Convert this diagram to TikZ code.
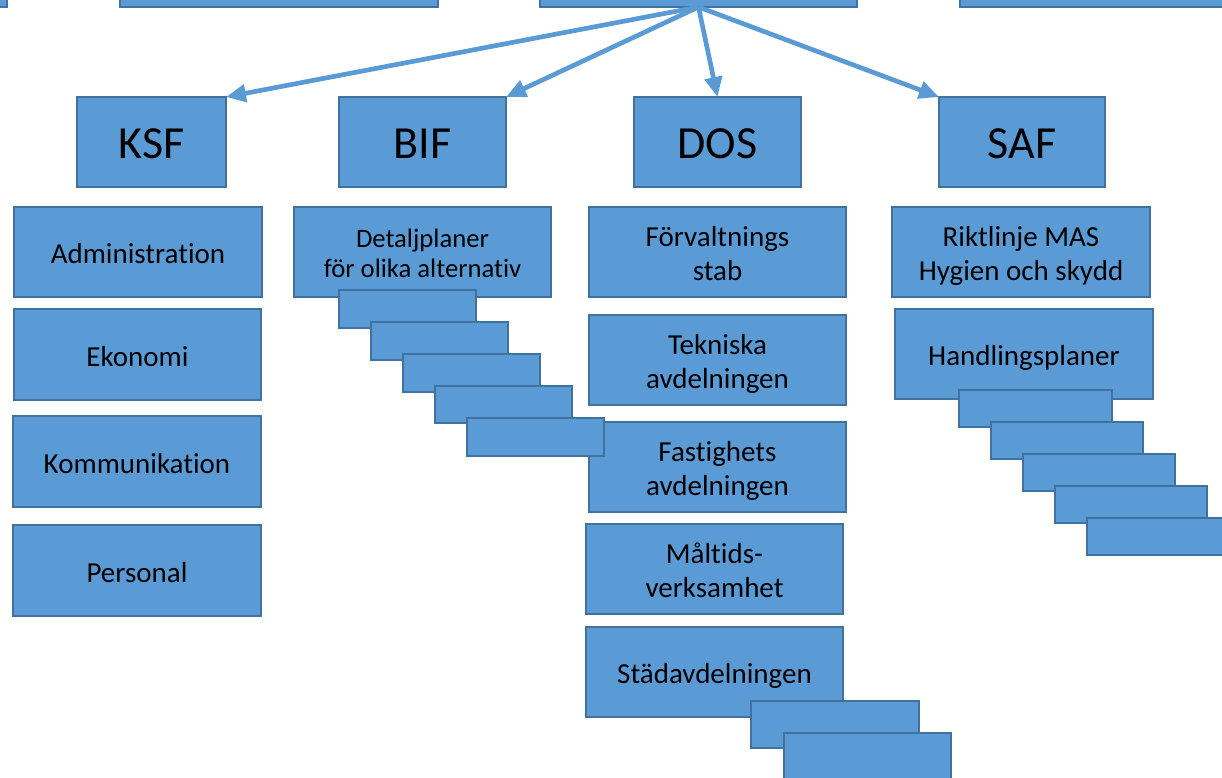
\documentclass[tikz,border=0pt]{standalone}
\usepackage{fontspec}
\setmainfont{Carlito}[Ligatures=NoCommon]
\usetikzlibrary{arrows.meta}
\definecolor{boxfill}{HTML}{5B9BD5}
\definecolor{boxline}{HTML}{41719C}
\newcommand{\mybx}[7][]{\node[box,#1, minimum width={(#4-#2)*0.75pt}, minimum height={(#5-#3)*0.75pt}] (#6) at ({(#2+#4)/2},{(#3+#5)/2}) {\raisebox{-3.6pt}[\height][\depth]{\begin{tabular}{@{}c@{}}#7\end{tabular}}};}
\begin{document}
\begin{tikzpicture}[x=0.75pt,y=-0.75pt,
  box/.style={draw=boxline, fill=boxfill, line width=1.2pt, inner sep=0pt, outer sep=0pt,
    align=center, text=black, font=\fontsize{21.75}{25.5}\selectfont},
  big/.style={font=\fontsize{34.5}{40}\selectfont},
  small/.style={font=\fontsize{20}{22.5}\selectfont},
  arr/.style={draw=boxfill, line width=3.5pt, -{Triangle[length=15pt,width=13pt]}}]
\clip (0,0) rectangle (1222,778);
% top row (cut off)
\mybx{-100}{-83}{7}{7}{t1}{}
\mybx{120}{-83}{438}{7}{t2}{}
\mybx{540}{-83}{857}{7}{t3}{}
\mybx{960}{-83}{1300}{7}{t4}{}
% second row
\mybx[big]{77}{97}{226}{187}{ksf}{\raisebox{-1pt}[\height][\depth]{KSF}}
\mybx[big]{339}{97}{506}{187}{bif}{\raisebox{-1pt}[\height][\depth]{BIF}}
\mybx[big]{634}{97}{801}{187}{dos}{\raisebox{-1pt}[\height][\depth]{DOS}}
\mybx[big]{939}{97}{1105}{187}{saf}{\raisebox{-1pt}[\height][\depth]{SAF}}
% KSF column
\mybx{14}{207}{262}{297}{adm}{Administration}
\mybx{14}{309}{261}{400}{eko}{Ekonomi}
\mybx{13}{416}{261}{507}{kom}{Kommunikation}
\mybx{13}{525}{261}{616}{per}{Personal}
% DOS column
\mybx{589}{207}{846}{297}{forv}{Förvaltnings\\stab}
\mybx{589}{315}{846}{405}{tek}{Tekniska\\avdelningen}
\mybx{589}{422}{846}{512}{fast}{Fastighets\\avdelningen}
\mybx{586}{524}{843}{614}{malt}{Måltids-\\verksamhet}
\mybx{586}{627}{843}{717}{stad}{Städavdelningen}
\mybx{751}{701}{919}{748}{d1}{}
\mybx{784}{733}{951}{800}{d2}{}
% BIF column
\mybx[small]{294}{207}{551}{297}{det}{Detaljplaner\\för olika alternativ}
\mybx{339}{290}{476}{328}{b1}{}
\mybx{371}{322}{508}{360}{b2}{}
\mybx{403}{354}{540}{392}{b3}{}
\mybx{435}{386}{572}{423}{b4}{}
\mybx{467}{418}{604}{456}{b5}{}
% SAF column
\mybx{892}{207}{1150}{297}{rikt}{Riktlinje MAS\\Hygien och skydd}
\mybx{895}{309}{1153}{399}{hand}{Handlingsplaner}
\mybx{959}{390}{1112}{427}{s1}{}
\mybx{991}{422}{1143}{459}{s2}{}
\mybx{1023}{454}{1175}{491}{s3}{}
\mybx{1055}{486}{1207}{523}{s4}{}
\mybx{1087}{518}{1240}{555}{s5}{}
% arrows
\draw[arr] (t3.south) -- (ksf.north east);
\draw[arr] (t3.south) -- (bif.north east);
\draw[arr] (t3.south) -- (dos.north);
\draw[arr] (t3.south) -- (saf.north west);
\end{tikzpicture}
\end{document}
